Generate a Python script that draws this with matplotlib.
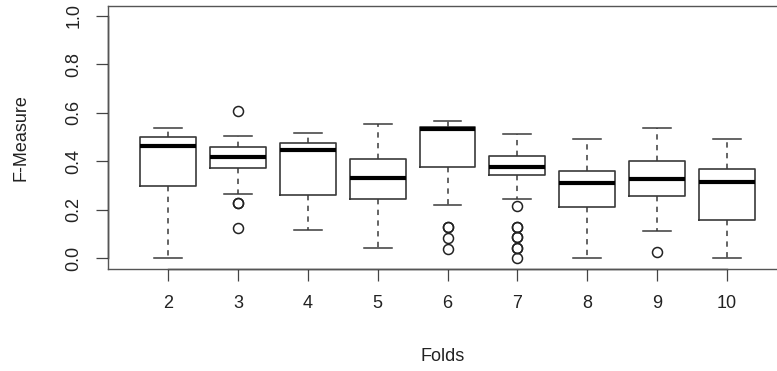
import matplotlib
matplotlib.use("Agg")
import matplotlib.pyplot as plt

plt.rcParams['font.family'] = ['Liberation Sans', 'DejaVu Sans']

folds = ["2", "3", "4", "5", "6", "7", "8", "9", "10"]
whisker_low = [0.0, 0.266, 0.117, 0.044, 0.218, 0.244, 0.0, 0.113, 0.0]
q1 = [0.298, 0.373, 0.261, 0.243, 0.378, 0.345, 0.211, 0.256, 0.157]
medians = [0.463, 0.416, 0.446, 0.331, 0.532, 0.378, 0.309, 0.326, 0.316]
q3 = [0.501, 0.457, 0.474, 0.409, 0.542, 0.420, 0.361, 0.401, 0.367]
whisker_high = [0.538, 0.505, 0.518, 0.552, 0.567, 0.514, 0.490, 0.538, 0.490]
outliers = [
    [],
    [0.608, 0.229, 0.229, 0.124],
    [],
    [],
    [0.129, 0.129, 0.084, 0.040],
    [0.214, 0.130, 0.130, 0.087, 0.087, 0.042, 0.042, 0.0],
    [],
    [0.026],
    [],
]
y_ticks = [0.0, 0.2, 0.4, 0.6, 0.8, 1.0]

stats = []
for i in range(len(folds)):
    stats.append(dict(whislo=whisker_low[i], q1=q1[i], med=medians[i],
                      q3=q3[i], whishi=whisker_high[i], fliers=outliers[i],
                      label=folds[i]))

fig = plt.figure(figsize=(7.77, 3.71), dpi=100)
ax = fig.add_axes([108.3 / 777, (371 - 269) / 371, 1 - 108.3 / 777, (269 - 6) / 371])

positions = list(range(1, len(folds) + 1))
ax.bxp(stats, positions=positions, widths=0.8, capwidths=0.4,
       boxprops=dict(color='#3a3a3a', linewidth=1.2),
       medianprops=dict(color='black', linewidth=3.0, solid_capstyle='butt'),
       whiskerprops=dict(color='#3a3a3a', linewidth=1.1, linestyle=(0, (3.5, 3.5))),
       capprops=dict(color='#3a3a3a', linewidth=1.1),
       flierprops=dict(marker='o', markersize=7.2, markerfacecolor='none',
                       markeredgecolor='#222222', markeredgewidth=1.1))

ax.set_xlim(0.14, 9.72)
ax.set_ylim(-0.044, 1.04)

for side in ['left', 'bottom', 'top']:
    ax.spines[side].set_color('#555555')
    ax.spines[side].set_linewidth(1.0)
ax.spines['right'].set_visible(False)

# R-style axis lines spanning first to last tick
ax.plot([positions[0], positions[-1]], [-0.044, -0.044], color='black', lw=1.0, clip_on=False)
ax.plot([0.14, 0.14], [y_ticks[0], y_ticks[-1]], color='black', lw=1.0, clip_on=False)

ax.set_xticks(positions)
ax.set_xticklabels(folds)
ax.set_yticks(y_ticks)
ax.set_yticklabels([f"{v:.1f}" for v in y_ticks], rotation=90, va='center')
ax.tick_params(axis='both', length=8.5, width=0.9, color='#444444', labelsize=13, labelcolor='#222222')
ax.tick_params(axis='x', pad=10)
ax.tick_params(axis='y', pad=10)

ax.set_xlabel("Folds", fontsize=13, color='#222222', labelpad=26)
ax.set_ylabel("F-Measure", fontsize=13, color='#222222', labelpad=26)

fig.savefig("out.png", dpi=100)
